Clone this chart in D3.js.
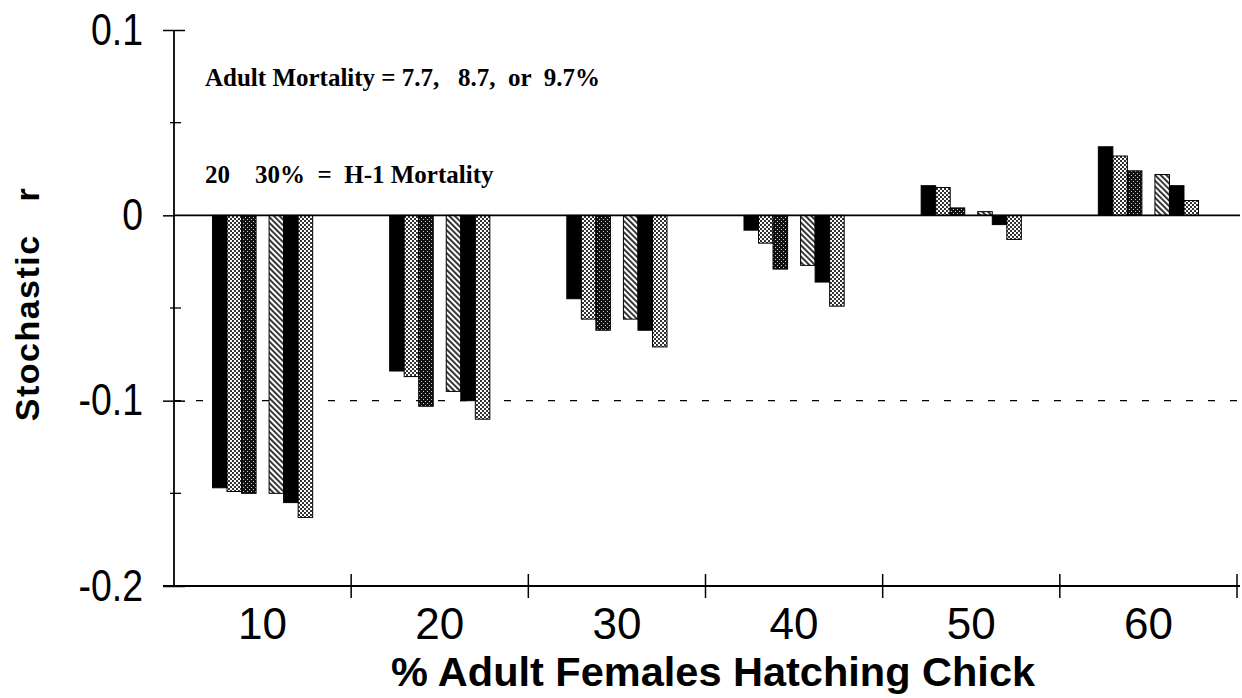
<!DOCTYPE html>
<html>
<head>
<meta charset="utf-8">
<script src="https://cdn.jsdelivr.net/npm/d3@7"></script>
<style>
  body { margin: 0; background: #fff; }
  text { white-space: pre; }
</style>
</head>
<body>
<svg id="chart"></svg>
<script>
// % adult females hatching chick
const categories = [10, 20, 30, 40, 50, 60];
// H-1 mortality clusters and adult mortality levels
const h1Levels = ["20", "30"];
const adultLevels = ["7.7", "8.7", "9.7"];

// stochastic r
const h20a77 = [-0.147, -0.084, -0.045, -0.008, 0.016, 0.037];
const h20a87 = [-0.149, -0.087, -0.056, -0.015, 0.015, 0.032];
const h20a97 = [-0.150, -0.103, -0.062, -0.029, 0.004, 0.024];
const h30a77 = [-0.150, -0.095, -0.056, -0.027, 0.002, 0.022];
const h30a87 = [-0.155, -0.100, -0.062, -0.036, -0.005, 0.016];
const h30a97 = [-0.163, -0.110, -0.071, -0.049, -0.013, 0.008];

const yTicks = [0.1, 0, -0.1, -0.2];
const yTickLabels = ["0.1", "0", "-0.1", "-0.2"];
const yMinor = [0.05, -0.05, -0.15];

const series = [
    {h1: "20", adult: "7.7", values: h20a77, fill: "#000"},
    {h1: "20", adult: "8.7", values: h20a87, fill: "url(#checker)"},
    {h1: "20", adult: "9.7", values: h20a97, fill: "url(#stipple)"},
    {h1: "30", adult: "7.7", values: h30a77, fill: "url(#hatch)"},
    {h1: "30", adult: "8.7", values: h30a87, fill: "#000"},
    {h1: "30", adult: "9.7", values: h30a97, fill: "url(#checker)"}
];

const svgWidth = 1242, svgHeight = 698;
const plotLeft = 174, plotRight = 1237, plotTop = 30, plotBottom = 586;
const labelSqueeze = 0.85; // the y labels are set narrower than normal

const svg = d3.select('#chart')
    .attr("width", svgWidth)
    .attr("height", svgHeight);

const defs = svg.append("defs");

const checker = defs.append("pattern")
    .attr("id", "checker")
    .attr("patternUnits", "userSpaceOnUse")
    .attr("width", 4).attr("height", 4);
checker.append("rect").attr("width", 4).attr("height", 4).attr("fill", "#fff");
checker.append("rect").attr("width", 2).attr("height", 2).attr("fill", "#333");
checker.append("rect").attr("x", 2).attr("y", 2).attr("width", 2).attr("height", 2).attr("fill", "#333");

const stipple = defs.append("pattern")
    .attr("id", "stipple")
    .attr("patternUnits", "userSpaceOnUse")
    .attr("width", 4).attr("height", 4);
stipple.append("rect").attr("width", 4).attr("height", 4).attr("fill", "#111");
stipple.append("rect").attr("x", 1).attr("y", 1).attr("width", 1).attr("height", 1).attr("fill", "#ccc");
stipple.append("rect").attr("x", 3).attr("y", 3).attr("width", 1).attr("height", 1).attr("fill", "#ccc");

const hatch = defs.append("pattern")
    .attr("id", "hatch")
    .attr("patternUnits", "userSpaceOnUse")
    .attr("width", 4).attr("height", 4)
    .attr("patternTransform", "rotate(-45)");
hatch.append("rect").attr("width", 4).attr("height", 4).attr("fill", "#fff");
hatch.append("rect").attr("width", 1.8).attr("height", 4).attr("fill", "#222");

const x = d3.scaleBand()
    .domain(categories)
    .range([plotLeft, plotRight])
    .paddingInner(0)
    .paddingOuter(0);

const xCluster = d3.scaleBand()
    .domain(h1Levels)
    .range([0, x.bandwidth()])
    .paddingInner(0.23)
    .paddingOuter(0.68);

const xBar = d3.scaleBand()
    .domain(adultLevels)
    .range([0, xCluster.bandwidth()])
    .padding(0);

const y = d3.scaleLinear()
    .domain([-0.2, 0.1])
    .range([plotBottom, plotTop]);

// dashed reference at -0.1
svg.append("line")
    .attr("x1", plotLeft).attr("x2", plotRight + 3)
    .attr("y1", y(-0.1)).attr("y2", y(-0.1))
    .attr("stroke", "#000")
    .attr("stroke-width", 1.3)
    .attr("stroke-dasharray", "7,15");

// bars
series.forEach(s => {
    svg.append("g")
        .selectAll("rect")
        .data(s.values)
        .enter()
        .append("rect")
        .attr("x", (d, i) => x(categories[i]) + xCluster(s.h1) + xBar(s.adult))
        .attr("width", xBar.bandwidth())
        .attr("y", d => Math.min(y(d), y(0)))
        .attr("height", d => Math.abs(y(d) - y(0)))
        .attr("fill", s.fill)
        .attr("stroke", "#000")
        .attr("stroke-width", 1);
});

// zero line
svg.append("line")
    .attr("x1", plotLeft).attr("x2", plotRight + 3)
    .attr("y1", y(0)).attr("y2", y(0))
    .attr("stroke", "#000")
    .attr("stroke-width", 1.8);

// y axis
const yAxis = svg.append("g")
    .attr("transform", `translate(${plotLeft},0)`)
    .call(d3.axisLeft(y)
        .tickValues(yTicks)
        .tickFormat((d, i) => yTickLabels[i])
        .tickSize(11)
        .tickPadding(20));
yAxis.select(".domain").attr("stroke-width", 1.8).attr("d", `M0,${plotTop}V${plotBottom}`);
yAxis.selectAll(".tick line").attr("stroke-width", 1.5);
yAxis.selectAll(".tick text")
    .attr("font-family", "Liberation Sans, Arial, sans-serif")
    .attr("font-size", 44)
    .attr("fill", "#000")
    .attr("x", -31 / labelSqueeze)
    .attr("transform", `scale(${labelSqueeze},1)`);

svg.append("g")
    .attr("transform", `translate(${plotLeft},0)`)
    .call(d3.axisRight(y)
        .tickValues([0.1, -0.1, -0.2])
        .tickFormat("")
        .tickSize(11))
    .call(g => g.select(".domain").remove())
    .selectAll(".tick line").attr("stroke-width", 1.5);

svg.append("g")
    .selectAll("line")
    .data(yMinor)
    .enter()
    .append("line")
    .attr("x1", plotLeft - 4)
    .attr("x2", plotLeft + 7)
    .attr("y1", d => y(d))
    .attr("y2", d => y(d))
    .attr("stroke", "#000")
    .attr("stroke-width", 1.3);

// x axis
const xAxis = svg.append("g")
    .attr("transform", `translate(0,${plotBottom})`)
    .call(d3.axisBottom(x)
        .tickSize(0)
        .tickPadding(22));
xAxis.select(".domain").attr("stroke-width", 1.8).attr("d", `M${plotLeft - 11},0H${plotRight + 3}`);
xAxis.selectAll(".tick text")
    .attr("font-family", "Liberation Sans, Arial, sans-serif")
    .attr("font-size", 44)
    .attr("fill", "#000");

svg.append("g")
    .selectAll("line")
    .data(categories)
    .enter()
    .append("line")
    .attr("x1", d => x(d) + x.bandwidth())
    .attr("x2", d => x(d) + x.bandwidth())
    .attr("y1", plotBottom - 12)
    .attr("y2", plotBottom + 12)
    .attr("stroke", "#000")
    .attr("stroke-width", 1.5);

// axis titles
svg.append("text")
    .attr("x", 713)
    .attr("y", 686)
    .attr("text-anchor", "middle")
    .attr("font-family", "Liberation Sans, Arial, sans-serif")
    .attr("font-weight", "bold")
    .attr("font-size", 41.5)
    .text("% Adult Females Hatching Chick");

svg.append("text")
    .attr("transform", "translate(39,304) rotate(-90)")
    .attr("text-anchor", "middle")
    .attr("font-family", "Liberation Sans, Arial, sans-serif")
    .attr("font-weight", "bold")
    .attr("font-size", 34)
    .attr("letter-spacing", 1.5)
    .text("Stochastic   r");

// legend notes
svg.append("text")
    .attr("x", 205)
    .attr("y", 86)
    .attr("font-family", "Liberation Serif, Times New Roman, serif")
    .attr("font-weight", "bold")
    .attr("font-size", 25)
    .text("Adult Mortality = 7.7,   8.7,  or  9.7%");

svg.append("text")
    .attr("x", 205)
    .attr("y", 183)
    .attr("font-family", "Liberation Serif, Times New Roman, serif")
    .attr("font-weight", "bold")
    .attr("font-size", 25)
    .text("20    30%  =  H-1 Mortality");
</script>
</body>
</html>
